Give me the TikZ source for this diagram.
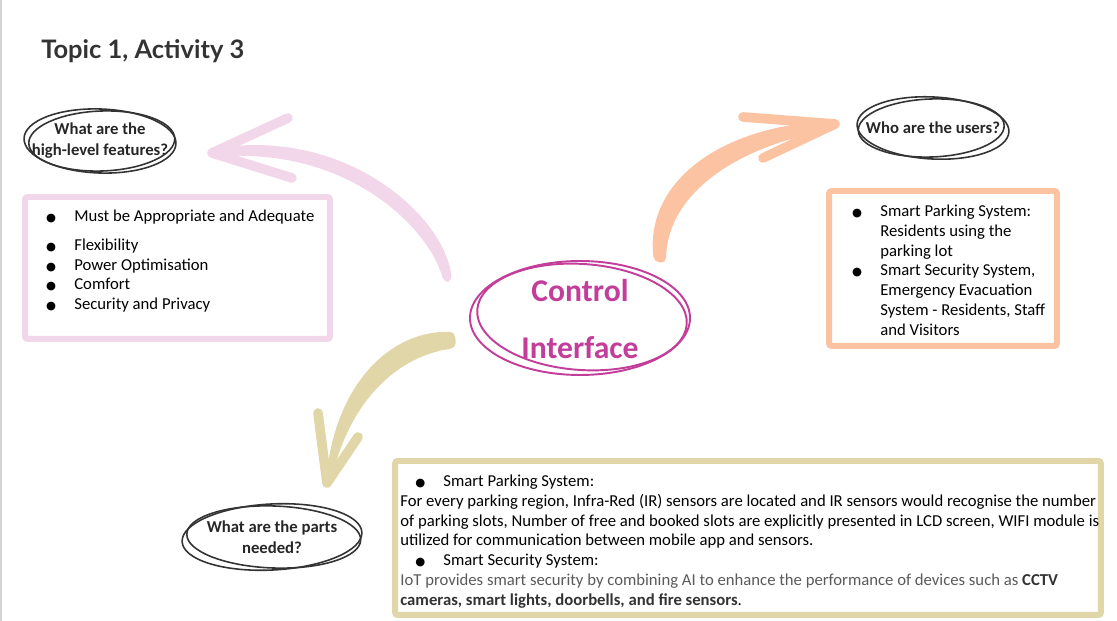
\documentclass[tikz,border=0pt]{standalone}
\usepackage{fontspec}
\setmainfont{Carlito}
\newfontfamily\titlefont{Lato}
\newfontfamily\dotfont{DejaVu Sans}
\usepackage{xcolor}
\usetikzlibrary{positioning}
\definecolor{InkDark}{HTML}{333333}
\definecolor{PinkBrush}{HTML}{F2D6E9}
\definecolor{PeachBrush}{HTML}{FBC3A1}
\definecolor{SandBrush}{HTML}{E1D6A7}
\definecolor{CtrlMagenta}{HTML}{C23E9A}
\definecolor{NoteGray}{HTML}{5A5A5A}
\definecolor{EdgeGray}{HTML}{D4D4D4}

\newcommand{\bul}{\makebox[16.5pt][l]{\hspace{0.5pt}{\dotfont\fontsize{6.5}{8}\selectfont ●}}}
\newcommand{\ind}{\hspace*{16.5pt}}

\tikzset{
  scribble/.style={draw=InkDark, line width=0.9pt},
  ctrlring/.style={draw=CtrlMagenta, line width=1.1pt},
  question/.style={font=\bfseries\fontsize{9.5}{12}\selectfont, text=black!85,
                   align=center, inner sep=0pt},
  listbox/.style={line width=3.4pt, rounded corners=1.5pt, fill=white},
  listtext/.style={anchor=north west, inner sep=0pt, align=left,
                   font=\fontsize{9.5}{11.2}\selectfont},
  barb/.style={line width=5.5pt, line cap=round, line join=round},
}

\begin{document}
\begin{tikzpicture}[x=0.02cm, y=-0.02cm]
  \useasboundingbox (0,0) rectangle (1117,621);
  \draw[EdgeGray, line width=1pt] (0.8,0) -- (0.8,621);

  % title
  \node[anchor=base west, inner sep=0pt, text=InkDark,
        font=\titlefont\bfseries\fontsize{14.5}{17}\selectfont]
        (title) at (41,59) {Topic 1, Activity 3};

  % centre
  \node[font=\bfseries\fontsize{18}{32}\selectfont, text=CtrlMagenta, align=center]
        (ctrl) at (580,319) {Control\\Interface};
  \draw[ctrlring] (580,318) ellipse [x radius=110, y radius=57];
  \draw[ctrlring] (582,317) ellipse [x radius=105, y radius=53, rotate=-4];

  % question bubbles
  \node[question] (featQ) at (100,141) {What are the\\high-level features?};
  \draw[scribble] (featQ.center) ellipse [x radius=76, y radius=32, rotate=-2];
  \draw[scribble] ([xshift=1pt]featQ.center) ellipse [x radius=73, y radius=30, rotate=2];

  \node[question] (usersQ) at (933,128) {Who are the users?};
  \draw[scribble] (usersQ.center) ellipse [x radius=76, y radius=31, rotate=-3];
  \draw[scribble] ([xshift=-1pt]usersQ.center) ellipse [x radius=73, y radius=29, rotate=2];

  \node[question] (partsQ) at (272,537) {What are the parts\\needed?};
  \draw[scribble] (partsQ.center) ellipse [x radius=90, y radius=33, rotate=3];
  \draw[scribble] ([xshift=1pt]partsQ.center) ellipse [x radius=87, y radius=31, rotate=-2];

  % boxes
  \node[listbox, draw=PinkBrush, minimum width=6.1cm, minimum height=2.84cm]
        (featBox) at (177.5,268) {};
  \node[listbox, draw=PeachBrush, minimum width=4.56cm, minimum height=3.1cm]
        (usersBox) at (943,268.5) {};
  \node[listbox, draw=SandBrush, minimum width=14.12cm, minimum height=3.08cm]
        (partsBox) at (748,538) {};

  \node[listtext] (featText) at (45,210) {%
    \bul Must be Appropriate and Adequate\\[5pt]
    \bul Flexibility\\
    \bul Power Optimisation\\
    \bul Comfort\\
    \bul Security and Privacy};

  \node[listtext] (usersText) at (851,205) {%
    \bul Smart Parking System:\\
    \ind Residents using the\\
    \ind parking lot\\
    \bul Smart Security System,\\
    \ind Emergency Evacuation\\
    \ind System - Residents, Staff\\
    \ind and Visitors};

  \node[listtext] (partsText) at (400,475) {%
    \hspace*{8pt}\bul Smart Parking System:\\
    For every parking region, Infra-Red (IR) sensors are located and IR sensors would recognise the number\\
    of parking slots, Number of free and booked slots are explicitly presented in LCD screen, WIFI module is\\
    utilized for communication between mobile app and sensors.\\
    \hspace*{8pt}\bul Smart Security System:\\
    \textcolor{NoteGray}{IoT provides smart security by combining AI to enhance the performance of devices such as}
    \textcolor{InkDark}{\bfseries CCTV}\\
    \textcolor{InkDark}{\bfseries cameras, smart lights, doorbells, and fire sensors}.};

  % brush arrows
  \coordinate (featTip) at (212,153);
  \fill[PinkBrush, rounded corners=3pt] (452,281) .. controls (445,218) and (350,130) .. (218,148)
    -- (218,157) .. controls (345,148) and (428,225) .. (444,283) -- cycle;
  \draw[PinkBrush, barb] (288,118) -- (featTip) -- (292,178);

  \coordinate (usersTip) at (835,124);
  \fill[PeachBrush, rounded corners=3pt] (654,262) .. controls (645,185) and (715,128) .. (830,121)
    -- (830,130) .. controls (725,150) and (667,200) .. (666,263) -- cycle;
  \draw[PeachBrush, barb] (743,117) -- (usersTip) -- (763,158);

  \coordinate (partsTip) at (327,483);
  \fill[SandBrush, rounded corners=3pt] (455,332) .. controls (390,330) and (335,385) .. (326,482)
    -- (331,482) .. controls (350,400) and (398,356) .. (456,348) -- cycle;
  \draw[SandBrush, barb] (318,413) -- (partsTip) -- (358,437);
\end{tikzpicture}
\end{document}
